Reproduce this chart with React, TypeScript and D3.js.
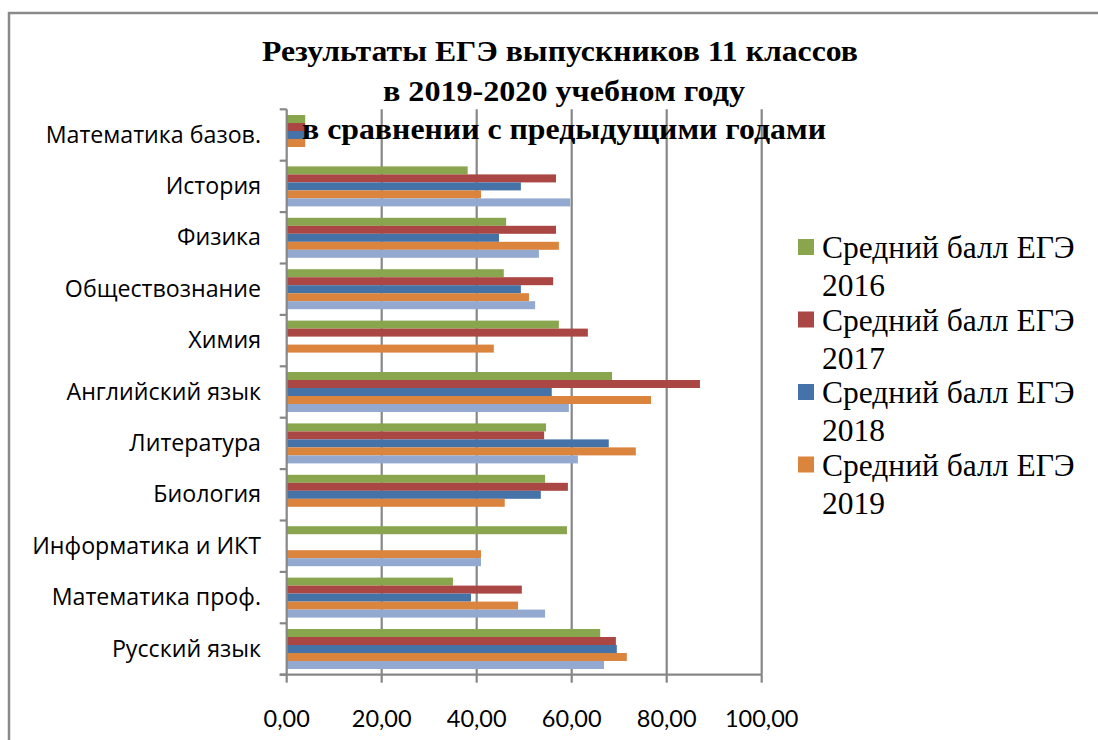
import React from 'react';
import * as d3 from 'd3';

const categories = [
  'Математика базов.', 'История', 'Физика', 'Обществознание', 'Химия',
  'Английский язык', 'Литература', 'Биология', 'Информатика и ИКТ',
  'Математика проф.', 'Русский язык',
];
const seriesNames = [
  'Средний балл ЕГЭ 2016', 'Средний балл ЕГЭ 2017', 'Средний балл ЕГЭ 2018',
  'Средний балл ЕГЭ 2019', 'Средний балл ЕГЭ 2020',
];
const legendYears = ['2016', '2017', '2018', '2019'];
const s2016 = [3.9, 38.1, 46.2, 45.7, 57.3, 68.5, 54.6, 54.4, 59.0, 35.0, 66.0];
const s2017 = [3.9, 56.7, 56.7, 56.1, 63.4, 87.0, 54.2, 59.2, null, 49.5, 69.3];
const s2018 = [4.1, 49.3, 44.7, 49.3, null, 55.8, 67.8, 53.5, null, 38.8, 69.5];
const s2019 = [3.9, 40.9, 57.3, 51.0, 43.6, 76.7, 73.5, 45.9, 40.9, 48.7, 71.6];
const s2020 = [null, 59.7, 53.1, 52.3, null, 59.4, 61.3, null, 40.9, 54.4, 66.8];
const seriesValues = [s2016, s2017, s2018, s2019, s2020];
const colors = ['#89A54E', '#AA4643', '#4572A7', '#DB843D', '#93A9CF'];
const xTicks = [0, 20, 40, 60, 80, 100];
const titleLines = [
  'Результаты ЕГЭ выпускников 11 классов',
  'в 2019-2020 учебном году',
  'в сравнении с предыдущими годами',
];

export default function App() {
  const W = 1098, H = 740;
  const left = 286.7, right = 761.7, top = 109.3, bottom = 674.7;
  const x = d3.scaleLinear().domain([0, 100]).range([left, right]);
  const y = d3.scaleBand<string>().domain(categories).range([top, bottom])
    .paddingInner(0.222).paddingOuter(0.111);
  const inner = d3.scaleBand<number>().domain(d3.range(seriesNames.length)).range([0, y.bandwidth()]);
  const step = y.step();
  const bounds = d3.range(categories.length + 1).map(i => top + i * step);
  const grid = '#878787';
  const titleSpans = [[262, 858, 61], [383, 745, 101], [302, 826, 139]];
  const labelFont = '"Open Sans", Lato, sans-serif';
  const serif = '"Liberation Serif", "Times New Roman", serif';

  return (
    <svg width={W} height={H} style={{ display: 'block', position: 'absolute', left: 0, top: 0 }}>
      <rect x={0} y={0} width={W} height={H} fill="#fff" />
      <rect x={9} y={13} width={W + 20} height={H + 20} fill="none" stroke="#8a8a8a" strokeWidth={2.5} />
      {xTicks.slice(1).map(t => (
        <line key={'g' + t} x1={x(t)} x2={x(t)} y1={top} y2={bottom} stroke={grid} strokeWidth={2.2} />
      ))}
      {seriesValues.map((vals, si) => vals.map((v, ci) => v == null ? null : (
        <rect key={si + '-' + ci} x={x(0)} y={(y(categories[ci]) as number) + (inner(si) as number)}
          width={x(v) - x(0)} height={inner.bandwidth()} fill={colors[si]} />
      )))}
      <line x1={x(0)} x2={x(0)} y1={top} y2={bottom} stroke={grid} strokeWidth={2.2} />
      {bounds.map((b, i) => (
        <line key={'ct' + i} x1={x(0) - 7} x2={x(0)} y1={b} y2={b} stroke={grid} strokeWidth={2.2} />
      ))}
      <line x1={x(0) - 7} x2={x(100)} y1={bottom} y2={bottom} stroke={grid} strokeWidth={2.2} />
      {xTicks.map(t => (
        <line key={'xt' + t} x1={x(t)} x2={x(t)} y1={bottom} y2={bottom + 8} stroke={grid} strokeWidth={2.2} />
      ))}
      {xTicks.map(t => (
        <text key={'xl' + t} x={x(t)} y={727} textAnchor="middle" fontFamily='Lato, sans-serif' fontSize={23.5} fill="#000">
          {d3.format('.2f')(t).replace('.', ',')}
        </text>
      ))}
      {categories.map(c => (
        <text key={'yl' + c} x={261} y={(y(c) as number) + y.bandwidth() / 2 + 7.5} textAnchor="end"
          fontFamily={labelFont} fontSize={23.2} fill="#000">{c}</text>
      ))}
      {legendYears.map((yr, i) => {
        const ty = 238 + i * 72.5;
        return (
          <g key={'lg' + yr}>
            <rect x={798} y={ty + 1} width={16} height={16} fill={colors[i]} />
            <text x={822} y={ty + 20} fontFamily={serif} fontSize={31.5} fill="#000">Средний балл ЕГЭ</text>
            <text x={822} y={ty + 58} fontFamily={serif} fontSize={31.5} fill="#000">{yr}</text>
          </g>
        );
      })}
      {titleLines.map((t, i) => (
        <text key={'t' + i} x={titleSpans[i][0]} y={titleSpans[i][2]} textLength={titleSpans[i][1] - titleSpans[i][0]}
          lengthAdjust="spacingAndGlyphs" fontFamily={serif}
          fontWeight="bold" fontSize={29} fill="#000">{t}</text>
      ))}
    </svg>
  );
}
